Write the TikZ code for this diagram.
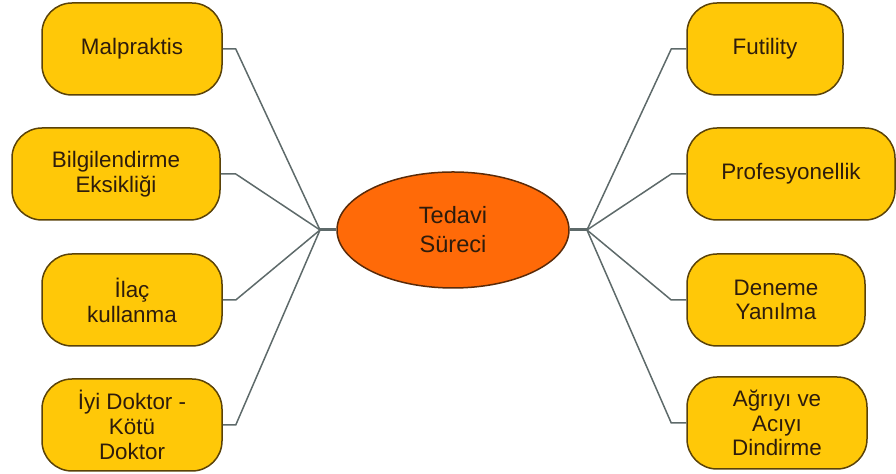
\documentclass[tikz,border=0pt]{standalone}
\usepackage{fontspec}
\setmainfont{Liberation Sans}
\definecolor{boxfill}{HTML}{FFC808}
\definecolor{boxline}{HTML}{5A4208}
\definecolor{centerfill}{HTML}{FF6A08}
\definecolor{centerline}{HTML}{5A2A08}
\definecolor{textbrown}{HTML}{2E1C0C}
\definecolor{linkgray}{HTML}{5E6A6A}
\usetikzlibrary{shapes.geometric}
\begin{document}
\begin{tikzpicture}[x=0.5pt,y=-0.5pt,
    box/.style={draw=boxline, line width=.75pt, fill=boxfill, rounded corners=15pt,
        align=center, inner sep=2pt, minimum height=46pt, text=textbrown,
        font=\fontsize{11.2}{12.4}\selectfont},
    centre/.style={ellipse, draw=centerline, line width=.75pt, fill=centerfill,
        minimum width=116pt, minimum height=58pt, align=center, inner sep=0pt,
        text=textbrown, font=\fontsize{11.8}{14.5}\selectfont},
    link/.style={draw=linkgray, line width=.75pt},
    stub/.style={draw=linkgray, line width=1.5pt}]

    \useasboundingbox (0,0) rectangle (896,474);

    % noeud central
    \node[centre] (tedavi) at (453,230) {Tedavi\\Süreci};
    \coordinate (hubL) at (320,230);
    \coordinate (hubR) at (587,230);

    % gauche
    \node[box, minimum width=90pt] (malpraktis) at (132,49) {Malpraktis};
    \node[box, minimum width=104pt] (bilgi) at (116,174) {Bilgilendirme\\Eksikliği};
    \node[box, minimum width=90pt] (ilac) at (132,300) {İlaç\\kullanma};
    \node[box, minimum width=90pt] (iyidoktor) at (132,425) {İyi Doktor -\\Kötü\\Doktor};

    % droite
    \node[box, minimum width=78pt] (futility) at (765,49) {Futility};
    \node[box, minimum width=104pt] (profesyonel) at (791,174) {Profesyonellik};
    \node[box, minimum width=89pt] (deneme) at (776,300) {Deneme\\Yanılma};
    \node[box, minimum width=90pt] (agri) at (777,423) {Ağrıyı ve\\Acıyı\\Dindirme};

    % liaisons
    \draw[stub] (hubL) -- (tedavi.west);
    \draw[stub] (hubR) -- (tedavi.east);
    \draw[link] (malpraktis.east) -- ++(13,0) -- (hubL);
    \draw[link] (bilgi.east) -- ++(15,0) -- (hubL);
    \draw[link] (ilac.east) -- ++(13,0) -- (hubL);
    \draw[link] (iyidoktor.east) -- ++(13,0) -- (hubL);
    \draw[link] (futility.west) -- ++(-15,0) -- (hubR);
    \draw[link] (profesyonel.west) -- ++(-15,0) -- (hubR);
    \draw[link] (deneme.west) -- ++(-15,0) -- (hubR);
    \draw[link] (agri.west) -- ++(-15,0) -- (hubR);

\end{tikzpicture}
\end{document}
